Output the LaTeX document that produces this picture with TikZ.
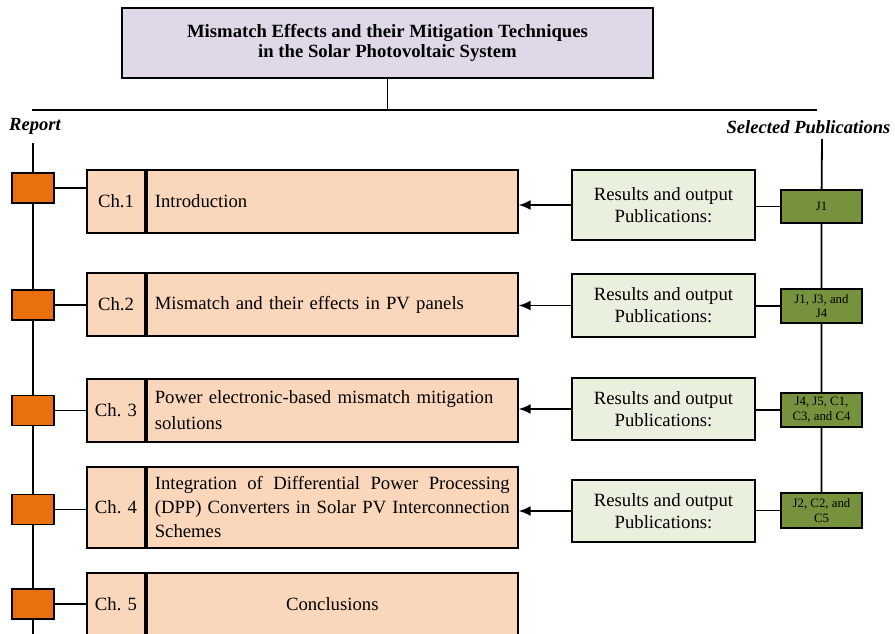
\documentclass[tikz,border=0pt]{standalone}
\usepackage{fontspec}
\setmainfont{Liberation Serif}
\usetikzlibrary{positioning,arrows.meta}
\definecolor{titlebg}{RGB}{222,216,232}
\definecolor{chapbg}{RGB}{250,215,186}
\definecolor{resbg}{RGB}{233,240,222}
\definecolor{pubbg}{RGB}{118,146,60}
\definecolor{markbg}{RGB}{234,112,13}

\begin{document}
\begin{tikzpicture}[
    x=1pt, y=-1pt,
    >={Latex[length=12pt,width=10pt]},
    line width=1.8pt,
    titlebox/.style={
        rectangle,
        draw,
        fill=titlebg,
        minimum width=531pt,
        minimum height=70pt,
        align=center,
        font=\fontsize{18.7}{19.5}\selectfont\bfseries
    },
    chapmark/.style={rectangle, draw, fill=markbg, minimum width=42pt, minimum height=30pt},
    chapnum/.style={rectangle, draw, fill=chapbg, minimum width=58pt, inner sep=0pt, font=\fontsize{18.7}{22}\selectfont},
    chaptext/.style={
        rectangle,
        draw,
        fill=chapbg,
        inner xsep=8pt,
        inner ysep=0pt,
        text width=355pt,
        align=left,
        font=\fontsize{18.7}{26}\selectfont
    },
    resbox/.style={rectangle, draw, fill=resbg, minimum width=183pt, align=center, font=\fontsize{18.7}{22}\selectfont},
    pubbox/.style={rectangle, draw, fill=pubbg, minimum width=81pt, inner sep=0pt, align=center, font=\fontsize{12.8}{14.7}\selectfont},
    heading/.style={font=\fontsize{18.6}{20}\selectfont\bfseries\itshape}
]
\useasboundingbox (0,0) rectangle (895,634);

\node[titlebox] (Title) at (387.5,43) {Mismatch Effects and their Mitigation Techniques\\in the Solar Photovoltaic System};
\coordinate (HL) at (32,110);
\coordinate (HR) at (817,110);
\draw (Title) -- (Title |- HL);
\draw (HL) -- (HR);

\node[heading] (Report) at (35,126) {Report};
\node[heading] (SelPub) at (808.5,127) {Selected Publications};
\coordinate (RepTop) at (33,143);
\coordinate (RepEnd) at (33,640);
\coordinate (PubTop) at (822,139);

% report side
\node[chapmark] (M1) at (33,188) {};
\node[chapmark] (M2) at (33,305) {};
\node[chapmark] (M3) at (33,410.5) {};
\node[chapmark] (M4) at (33,509.5) {};
\node[chapmark] (M5) at (33,604) {};

\node[chapnum, minimum height=63pt] (N1) at (116,201.5) {Ch.1};
\node[chaptext, minimum height=63pt, right=0pt of N1] (C1) {Introduction};
\node[chapnum, minimum height=63pt] (N2) at (116,304.5) {Ch.2};
\node[chaptext, minimum height=63pt, right=0pt of N2] (C2) {Mismatch and their effects in PV panels};
\node[chapnum, minimum height=63pt] (N3) at (116,410.5) {Ch. 3};
\node[chaptext, minimum height=63pt, right=0pt of N3] (C3) {Power electronic-based mismatch mitigation\\solutions};
\node[chapnum, minimum height=81pt] (N4) at (116,507.5) {Ch. 4};
\node[chaptext, minimum height=81pt, align=justify, font=\fontsize{18.7}{24}\selectfont, right=0pt of N4] (C4) {Integration of Differential Power Processing\linebreak (DPP) Converters in Solar PV Interconnection\linebreak Schemes};
\node[chapnum, minimum height=63pt] (N5) at (116,604.5) {Ch. 5};
\node[chaptext, minimum height=63pt, align=center, right=0pt of N5] (C5) {Conclusions};

% publication side
\node[resbox, minimum height=70pt] (R1) at (663.5,205) {Results and output\\Publications:};
\node[resbox, minimum height=63pt] (R2) at (663.5,305.5) {Results and output\\Publications:};
\node[resbox, minimum height=62pt] (R3) at (663.5,409) {Results and output\\Publications:};
\node[resbox, minimum height=62pt] (R4) at (663.5,511) {Results and output\\Publications:};

\node[pubbox, minimum height=33pt] (J1) at (821.5,206.5) {J1};
\node[pubbox, minimum height=34pt] (J2) at (821.5,306) {J1, J3, and\\J4};
\node[pubbox, minimum height=34pt] (J3) at (821.5,410) {J4, J5, C1,\\C3, and C4};
\node[pubbox, minimum height=35pt] (J4) at (821.5,510.5) {J2, C2, and\\C5};

\draw (RepTop) -- (M1) -- (M2) -- (M3) -- (M4) -- (M5) -- (RepEnd);
\draw (PubTop) -- (J1) -- (J2) -- (J3) -- (J4);
\foreach \i in {1,...,5}
    \draw (M\i) -- (M\i -| N\i.west);
\foreach \i in {1,...,4} {
    \draw[->] (R\i) -- (R\i -| C\i.east);
    \draw (J\i) -- (J\i -| R\i.east);
}

\end{tikzpicture}
\end{document}
